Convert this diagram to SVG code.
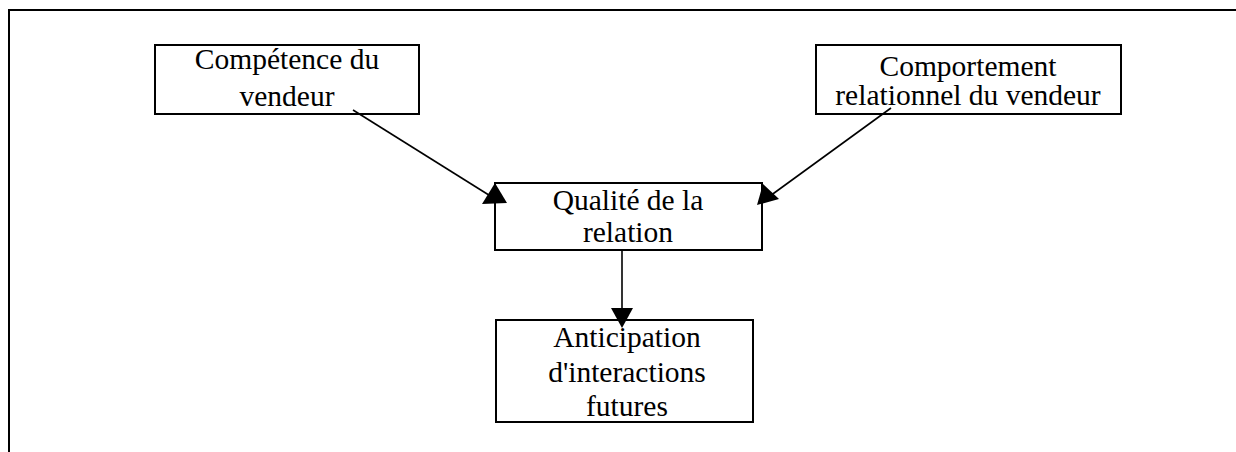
<svg xmlns="http://www.w3.org/2000/svg" width="1236" height="452" viewBox="0 0 1236 452">
<style>
.box{fill:#fff;stroke:#000;stroke-width:2}
.t{font-family:"Liberation Serif","Times New Roman",serif;font-size:29.5px;fill:#000;text-anchor:middle}
.ln{stroke:#000;stroke-width:1.6;fill:none}
.ah{fill:#000;stroke:none}
.frame{stroke:#000;stroke-width:2;fill:none}
</style>
<rect width="1236" height="452" fill="#fff"/>
<g id="frame">
<path class="frame" d="M9,452 V10 H1236"/>
</g>
<g id="n1">
<rect class="box" x="155" y="45" width="264" height="69"/>
<text class="t" x="287" y="69">Compétence du</text>
<text class="t" x="287" y="106">vendeur</text>
</g>
<g id="n2">
<rect class="box" x="816" y="45" width="305" height="69"/>
<text class="t" x="968" y="76">Comportement</text>
<text class="t" x="968" y="105">relationnel du vendeur</text>
</g>
<g id="n3">
<rect class="box" x="495" y="183" width="267" height="67"/>
<text class="t" x="628" y="210">Qualité de la</text>
<text class="t" x="628" y="242">relation</text>
</g>
<g id="n4">
<rect class="box" x="496" y="320" width="257" height="102"/>
<text class="t" x="627" y="347">Anticipation</text>
<text class="t" x="627" y="382">d'interactions</text>
<text class="t" x="627" y="416">futures</text>
</g>
<g id="connectors">
<line class="ln" x1="353" y1="110" x2="492" y2="197"/>
<polygon class="ah" points="482,204 507,203 495,183"/>
<line class="ln" x1="891" y1="108" x2="770" y2="196"/>
<polygon class="ah" points="757,205 763,184 779,199"/>
<line class="ln" x1="622" y1="250" x2="622" y2="310"/>
<polygon class="ah" points="611,308 633,308 622,328"/>
</g>
</svg>
